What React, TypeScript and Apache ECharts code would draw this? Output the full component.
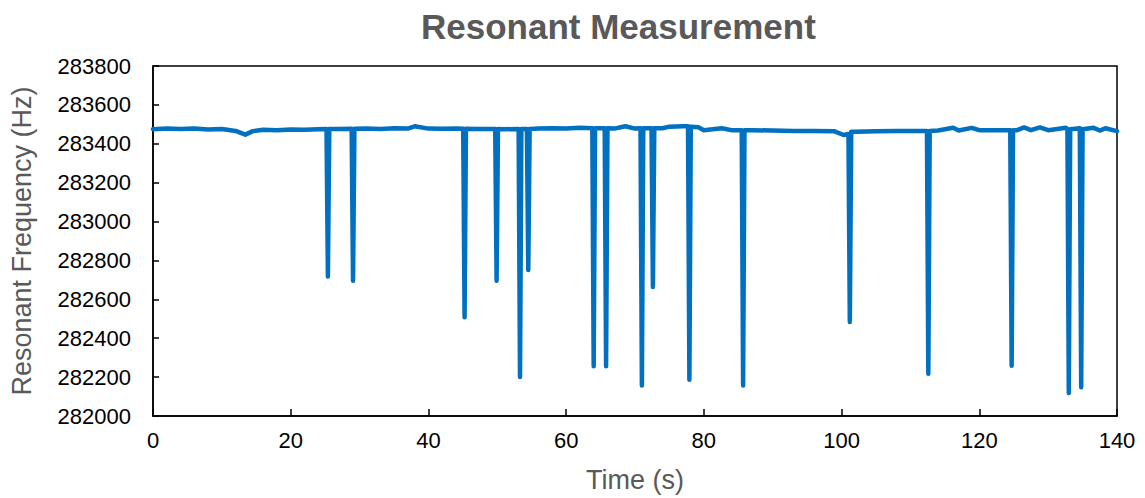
import React, { useEffect, useRef } from "react";
import * as echarts from "echarts";

const times: number[] = [
  0, 2, 4, 6, 8, 10, 12, 13.4, 14.5, 16, 18, 20, 22, 24,
  25.2, 25.4, 25.6, 27, 28.85, 29.05, 29.25, 31, 33, 35, 37, 38, 40, 42, 44,
  45.05, 45.25, 45.45, 47, 49.7, 49.9, 50.1, 51, 53.1, 53.3, 53.5,
  54.3, 54.5, 54.7, 56, 58, 60, 62, 63.8, 64.0, 64.2, 65.6, 65.8, 66.0,
  67, 68.6, 70, 70.8, 71.0, 71.2, 72.4, 72.6, 72.8, 74, 75, 77,
  77.7, 77.9, 78.1, 79.2, 80, 82.6, 84, 85.5, 85.7, 85.9, 87, 90, 93, 96, 99,
  100.3, 101.0, 101.2, 101.4, 102, 105, 108, 111, 112.4, 112.6, 112.8,
  114, 116.2, 117, 118.9, 120, 122, 124.5, 124.7, 124.9, 125.5, 126.5, 127.5,
  128.8, 130, 132.6, 132.8, 133.0, 133.2, 134.6, 134.8, 135.0, 136.6, 137.5,
  138.3, 140,
];

const frequencies: number[] = [
  283475, 283478, 283476, 283478, 283474, 283476, 283466, 283447, 283465, 283472, 283470, 283474, 283472, 283475,
  283476, 282717, 283476, 283476, 283477, 282696, 283477, 283478, 283476, 283480, 283478, 283490, 283478, 283477, 283478,
  283477, 282508, 283477, 283476, 283476, 282696, 283476, 283475, 283476, 282200, 283476,
  283476, 282751, 283476, 283478, 283480, 283478, 283482, 283480, 282256, 283480, 283480, 282256, 283480,
  283478, 283490, 283478, 283480, 282157, 283480, 283480, 282664, 283480, 283480, 283488, 283490,
  283490, 282187, 283488, 283485, 283470, 283480, 283470, 283470, 282157, 283470, 283470, 283468, 283466, 283466, 283464,
  283445, 283450, 282484, 283462, 283462, 283465, 283466, 283466, 283466, 282217, 283466,
  283468, 283482, 283468, 283482, 283470, 283470, 283470, 282259, 283470, 283470, 283484, 283470,
  283484, 283470, 283482, 283475, 282118, 283475, 283480, 282148, 283475, 283482, 283468,
  283480, 283465,
];

const xTicks = { min: 0, max: 140, interval: 20 };
const yTicks = { min: 282000, max: 283800, interval: 200 };

export default function App() {
  const ref = useRef<HTMLDivElement>(null);

  useEffect(() => {
    if (!ref.current) return;
    const chart = echarts.init(ref.current, null, { renderer: "svg" });
    const data = times.map((t, i) => [t, frequencies[i]]);
    const font = "'Liberation Sans', Arial, sans-serif";
    chart.setOption({
      animation: false,
      backgroundColor: "#ffffff",
      title: {
        text: "Resonant Measurement",
        left: 416,
        top: 4,
        textStyle: {
          fontFamily: font,
          fontSize: 35,
          fontWeight: "bold",
          color: "#595959",
        },
      },
      grid: {
        left: 153,
        right: 28,
        top: 66,
        bottom: 80,
        show: true,
        borderColor: "#000",
        borderWidth: 1.5,
        backgroundColor: "transparent",
      },
      xAxis: {
        type: "value",
        min: xTicks.min,
        max: xTicks.max,
        interval: xTicks.interval,
        name: "Time (s)",
        nameLocation: "middle",
        nameGap: 50,
        nameTextStyle: { fontFamily: font, fontSize: 27, color: "#595959" },
        axisLine: { show: true, lineStyle: { color: "#000", width: 1.5 } },
        axisTick: { show: true, inside: true, length: 7, lineStyle: { color: "#000", width: 1.5 } },
        axisLabel: { fontFamily: font, fontSize: 22, color: "#000", margin: 13 },
        splitLine: { show: false },
      },
      yAxis: {
        type: "value",
        min: yTicks.min,
        max: yTicks.max,
        interval: yTicks.interval,
        name: "Resonant Frequency (Hz)",
        nameLocation: "middle",
        nameGap: 118,
        nameTextStyle: { fontFamily: font, fontSize: 27, color: "#595959" },
        axisLine: { show: true, lineStyle: { color: "#000", width: 1.5 } },
        axisTick: { show: true, inside: true, length: 6, lineStyle: { color: "#000", width: 1.5 } },
        axisLabel: {
          fontFamily: font,
          fontSize: 22,
          color: "#000",
          margin: 22,
          formatter: (v: number) => String(v),
        },
        splitLine: { show: false },
      },
      series: [
        {
          type: "line",
          data,
          showSymbol: false,
          symbol: "none",
          lineStyle: { color: "#0070C0", width: 4.5, cap: "round", join: "round" },
        },
      ],
    });
    return () => chart.dispose();
  }, []);

  return (
    <div
      ref={ref}
      style={{ position: "fixed", left: 0, top: 0, width: 1145, height: 498 }}
    />
  );
}
